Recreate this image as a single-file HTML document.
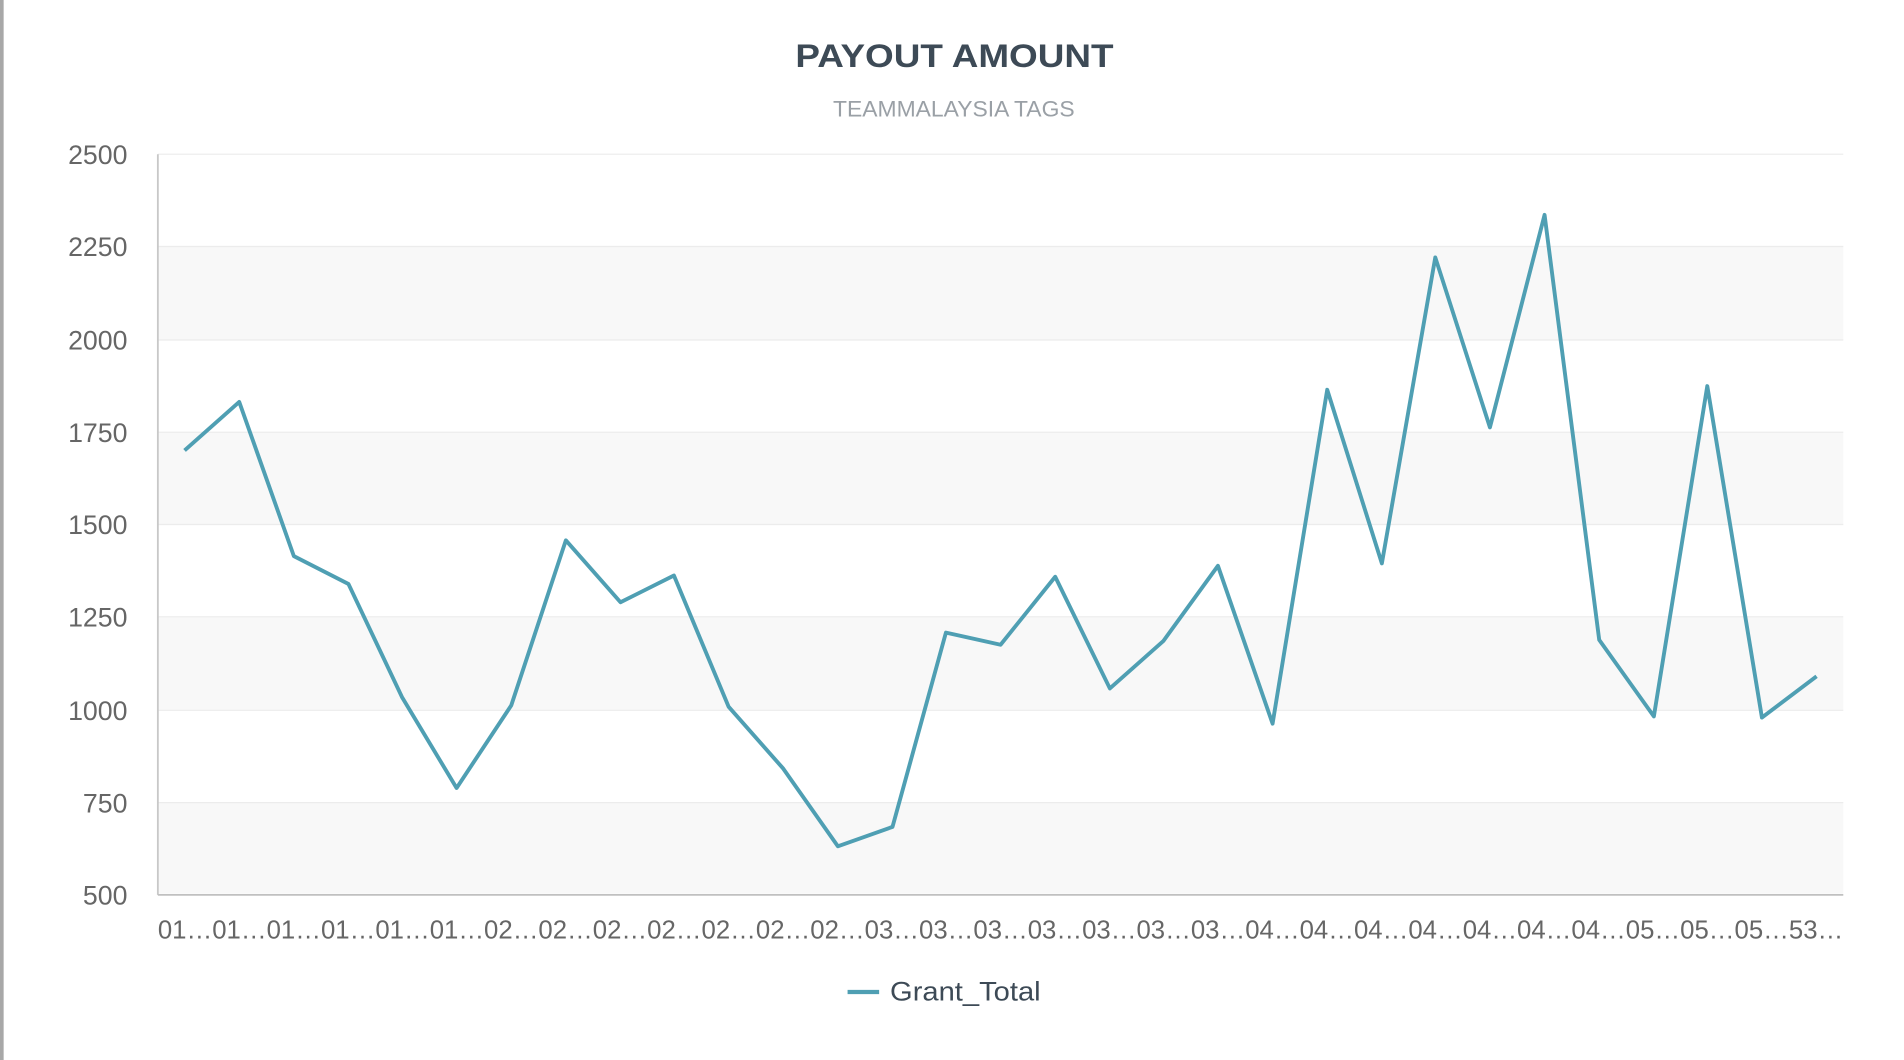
<!DOCTYPE html>
<html><head><meta charset="utf-8"><style>
html,body{margin:0;padding:0;background:#fff;width:1904px;height:1060px;overflow:hidden}
svg{display:block}
</style></head><body>
<svg width="1904" height="1060" viewBox="0 0 1568 873" preserveAspectRatio="none" font-family="'Liberation Sans', sans-serif">
<rect x="0" y="0" width="3" height="873" fill="#a8a8a8"/>
<text x="786" y="55" text-anchor="middle" font-size="27" font-weight="bold" fill="#3d4a56" textLength="262" lengthAdjust="spacingAndGlyphs">PAYOUT AMOUNT</text>
<text x="785.5" y="96" text-anchor="middle" font-size="18" fill="#9aa0a6" textLength="199" lengthAdjust="spacingAndGlyphs">TEAMMALAYSIA TAGS</text>
<g fill="#f8f8f8">
<rect x="130" y="203" width="1388" height="77"/>
<rect x="130" y="356" width="1388" height="76"/>
<rect x="130" y="508" width="1388" height="77"/>
<rect x="130" y="661" width="1388" height="75"/>
</g>
<g stroke="#ececec" stroke-width="1">
<line x1="130" x2="1518" y1="127" y2="127"/><line x1="130" x2="1518" y1="203" y2="203"/>
<line x1="130" x2="1518" y1="280" y2="280"/><line x1="130" x2="1518" y1="356" y2="356"/>
<line x1="130" x2="1518" y1="432" y2="432"/><line x1="130" x2="1518" y1="508" y2="508"/>
<line x1="130" x2="1518" y1="585" y2="585"/><line x1="130" x2="1518" y1="661" y2="661"/>
</g>
<line x1="130" x2="130" y1="127" y2="737" stroke="#c8c8c8" stroke-width="1.5"/>
<line x1="130" x2="1518" y1="737" y2="737" stroke="#c0c0c0" stroke-width="1.5"/>
<g font-size="22" fill="#666" text-anchor="end">
<text x="105" y="135">2500</text><text x="105" y="211">2250</text><text x="105" y="288">2000</text>
<text x="105" y="364">1750</text><text x="105" y="440">1500</text><text x="105" y="516">1250</text>
<text x="105" y="593">1000</text><text x="105" y="669">750</text><text x="105" y="745">500</text>
</g>
<polyline fill="none" stroke="#4f9fb3" stroke-width="3.2" stroke-linejoin="round" points="152,371 197,331 242,458 287,481 331,574 376,649 421,581 466,445 511,496 555,474 600,582 645,633 690,697 735,681 779,521 824,531 869,475 914,567 958,528 1003,466 1048,596 1093,321 1138,464 1182,212 1227,352 1272,177 1317,527 1362,590 1406,318 1451,591 1496,557"/>
<text x="130" y="773" font-size="21" fill="#666" textLength="1388" lengthAdjust="spacingAndGlyphs">01…01…01…01…01…01…02…02…02…02…02…02…02…03…03…03…03…03…03…03…04…04…04…04…04…04…04…05…05…05…53…</text>
<line x1="698" x2="724" y1="817" y2="817" stroke="#4f9fb3" stroke-width="3.5"/>
<text x="733" y="824" font-size="22" fill="#3d4a56" textLength="124" lengthAdjust="spacingAndGlyphs">Grant_Total</text>
</svg>
</body></html>
